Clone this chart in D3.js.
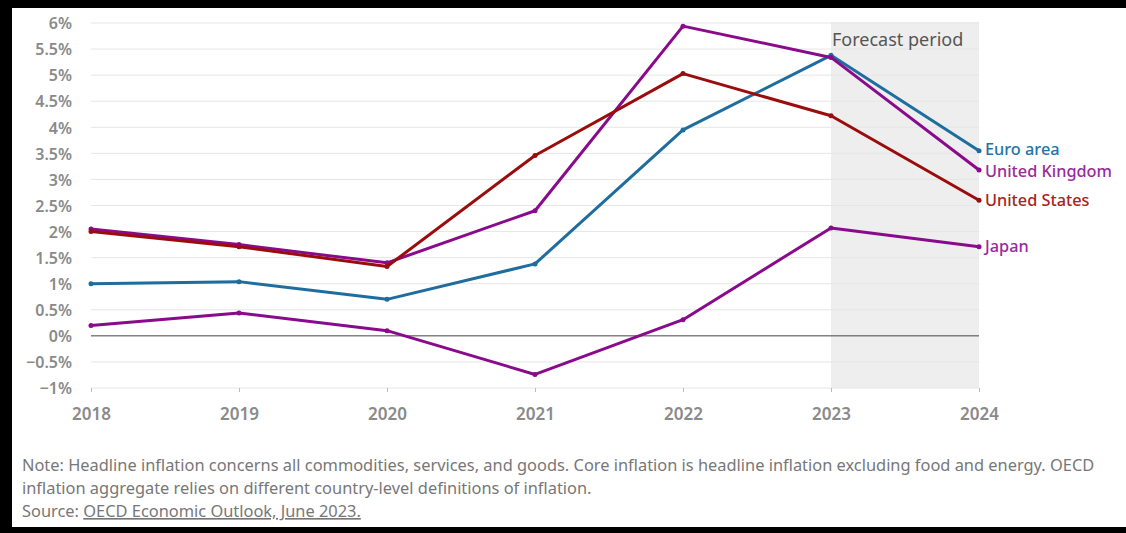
<!DOCTYPE html>
<html><head><meta charset="utf-8">
<script src="https://cdn.jsdelivr.net/npm/d3@7"></script>
<style>
html,body{margin:0;padding:0;background:#fff;}
svg{display:block;font-family:"Noto Sans",sans-serif;}
</style></head>
<body>
<svg id="chart" width="1126" height="533"></svg>
<script>
const years = [2018, 2019, 2020, 2021, 2022, 2023, 2024];
const euroArea = [1.0, 1.04, 0.70, 1.38, 3.95, 5.38, 3.55];
const unitedStates = [2.0, 1.71, 1.33, 3.46, 5.03, 4.22, 2.60];
const unitedKingdom = [2.05, 1.75, 1.40, 2.40, 5.94, 5.34, 3.18];
const japan = [0.20, 0.44, 0.10, -0.74, 0.31, 2.07, 1.71];
const yTicks = [-1, -0.5, 0, 0.5, 1, 1.5, 2, 2.5, 3, 3.5, 4, 4.5, 5, 5.5, 6];
const forecastStart = 2023, forecastEnd = 2024;

const series = [
  {name: "Euro area", values: euroArea, color: "#1f6d9e", label: "#2474a8", dy: -1},
  {name: "United Kingdom", values: unitedKingdom, color: "#8a0a8c", label: "#9a2a9c", dy: 1},
  {name: "United States", values: unitedStates, color: "#9b0c0c", label: "#a82222", dy: 0},
  {name: "Japan", values: japan, color: "#8a0a8c", label: "#9a2a9c", dy: 0}
];

const svg = d3.select("#chart");
const x = d3.scaleLinear().domain([2018, 2024]).range([91, 979]);
const y = d3.scaleLinear().domain([-1, 6]).range([388, 23]);

// forecast band
svg.append("rect")
  .attr("x", x(forecastStart)).attr("y", y(6) - 1)
  .attr("width", x(forecastEnd) - x(forecastStart))
  .attr("height", y(-1) - y(6) + 1)
  .attr("fill", "#eeeeee");

// gridlines
svg.append("g").selectAll("line").data(yTicks.filter(d => d !== 0)).join("line")
  .attr("x1", x(2018)).attr("x2", x(2024))
  .attr("y1", d => y(d)).attr("y2", d => y(d))
  .attr("stroke", "#e6e6e6").attr("stroke-width", 1);

// y axis labels
const yAxis = d3.axisLeft(y).tickValues(yTicks).tickSize(0).tickPadding(0)
  .tickFormat(d => d3.format("")(d) + "%");
const gy = svg.append("g").attr("transform", "translate(72,0)").call(yAxis);
gy.select(".domain").remove();
gy.selectAll("text").attr("fill", "#8a8a8a").attr("font-size", 16).attr("font-weight", 600)
  .attr("font-family", "Noto Sans").attr("dy", "0.36em");

// x axis
const xAxis = d3.axisBottom(x).tickValues(years).tickFormat(d3.format("d")).tickSize(4).tickPadding(16);
const gx = svg.append("g").attr("transform", `translate(0,${y(-1)})`).call(xAxis);
gx.select(".domain").remove();
gx.selectAll("line").attr("stroke", "#bbbbbb");
gx.selectAll("text").attr("fill", "#8a8a8a").attr("font-size", 17).attr("font-weight", 600)
  .attr("font-family", "Noto Sans");

// zero line
svg.append("line").attr("x1", x(2018)).attr("x2", x(2024))
  .attr("y1", y(0)).attr("y2", y(0)).attr("stroke", "#444").attr("stroke-width", 1);

// forecast label
svg.append("text").attr("x", x(forecastStart) + 1).attr("y", 46)
  .attr("fill", "#555").attr("font-size", 18).text("Forecast period");

// lines
const line = d3.line().x((d, i) => x(years[i])).y(d => y(d));
series.forEach(s => {
  svg.append("path").datum(s.values).attr("d", line)
    .attr("fill", "none").attr("stroke", s.color).attr("stroke-width", 3)
    .attr("stroke-linejoin", "round");
  svg.append("g").selectAll("circle").data(s.values).join("circle")
    .attr("cx", (d, i) => x(years[i])).attr("cy", d => y(d)).attr("r", 2.5)
    .attr("fill", s.color);
  svg.append("text").attr("x", x(2024) + 6).attr("y", y(s.values[6]) + s.dy)
    .attr("dy", "0.35em").attr("fill", s.label).attr("font-size", 16.3).attr("font-weight", 500)
    .text(s.name);
});

// notes
const notes = [
  "Note: Headline inflation concerns all commodities, services, and goods. Core inflation is headline inflation excluding food and energy. OECD",
  "inflation aggregate relies on different country-level definitions of inflation."
];
notes.forEach((t, i) => {
  svg.append("text").attr("x", 22).attr("y", 471 + i * 23)
    .attr("fill", "#777").attr("font-size", 16.4).text(t);
});
const src = svg.append("text").attr("x", 22).attr("y", 517).attr("fill", "#777").attr("font-size", 16.4);
src.append("tspan").text("Source: ");
src.append("tspan").attr("text-decoration", "underline").text("OECD Economic Outlook, June 2023.");

// frame
svg.append("rect").attr("x", 0).attr("y", 0).attr("width", 1126).attr("height", 8).attr("fill", "#000");
svg.append("rect").attr("x", 0).attr("y", 0).attr("width", 12).attr("height", 533).attr("fill", "#000");
svg.append("rect").attr("x", 0).attr("y", 527).attr("width", 1126).attr("height", 6).attr("fill", "#000");
</script>
</body></html>
